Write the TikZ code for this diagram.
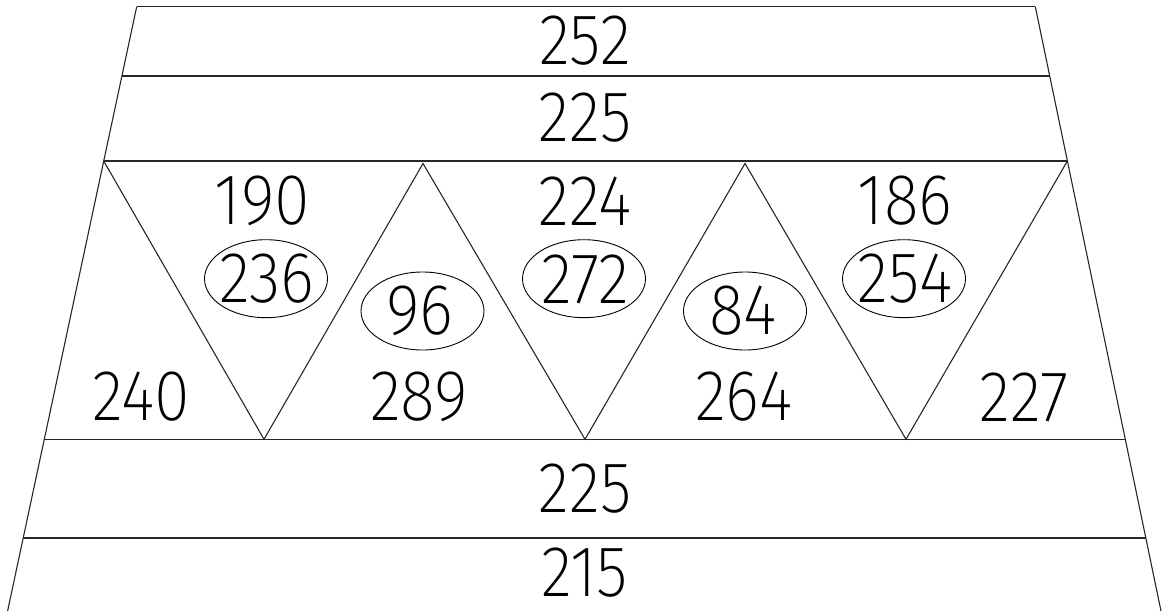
\documentclass[tikz,border=0pt]{standalone}
\usepackage{fontspec}
\newfontfamily\numfont{Fira Sans ExtraLight}
\begin{document}
\begin{tikzpicture}[x=1pt,y=-1pt,
  edge/.style={line width=1.1pt, draw=black!85},
  num/.style={font=\numfont\fontsize{72}{72}\selectfont, inner sep=0pt, anchor=center, xscale=0.9},
  oval/.style={draw, line width=0.9pt, ellipse, minimum width=123pt, minimum height=78pt, inner sep=0pt}]
\useasboundingbox (0,0) rectangle (1162,611);
\usetikzlibrary{shapes.geometric}
% corners
\coordinate (tl) at (136.7,6.7);  \coordinate (tr) at (1035.3,6.7);
\coordinate (al) at (121.9,76);   \coordinate (ar) at (1049.7,76);
\coordinate (bl) at (103.7,161);  \coordinate (br) at (1067.4,161);
\coordinate (cl) at (44.3,439.3); \coordinate (cr) at (1125.3,439.3);
\coordinate (dl) at (23.3,538);   \coordinate (dr) at (1146.3,538);
\coordinate (el) at (7.6,611);    \coordinate (er) at (1161,611);
% zigzag vertices
\coordinate (v1) at (264,439.3);
\coordinate (v2) at (423,163.5);
\coordinate (v3) at (585,439.3);
\coordinate (v4) at (745,163.5);
\coordinate (v5) at (906,439.3);
% frame
\draw[edge] (tl) -- (tr);
\draw[edge] (al) -- (ar);
\draw[edge] (bl) -- (br);
\draw[edge] (cl) -- (cr);
\draw[edge] (dl) -- (dr);
\draw[edge] (tl) -- (el);
\draw[edge] (tr) -- (er);
\draw[edge] (bl) -- (v1) -- (v2) -- (v3) -- (v4) -- (v5) -- (br);
% rows
\node[num] (n252) at (585,41) {252};
\node[num] (n225a) at (585,117.5) {225};
\node[num] (n225b) at (585,489) {225};
\node[num] (n215) at (585,573) {215};
% upper numbers
\node[num] (n190) at (262.5,201) {190};
\node[num] (n224) at (585,201) {224};
\node[num] (n186) at (905,201) {186};
% ovals
\node[oval] (o236) at (266,278.7) {};
\node[num] (n236) at (267,279) {236};
\node[oval] (o272) at (584,278.7) {};
\node[num] (n272) at (585,279) {272};
\node[oval] (o254) at (904,278.7) {};
\node[num] (n254) at (905,279) {254};
\node[oval] (o96) at (422.5,311) {};
\node[num] (n96) at (420,311) {96};
\node[oval] (o84) at (745,311) {};
\node[num] (n84) at (743,311) {84};
% lower numbers
\node[num] (n240) at (141,397) {240};
\node[num] (n289) at (419,397) {289};
\node[num] (n264) at (744,397) {264};
\node[num] (n227) at (1024,397) {227};
\end{tikzpicture}
\end{document}
